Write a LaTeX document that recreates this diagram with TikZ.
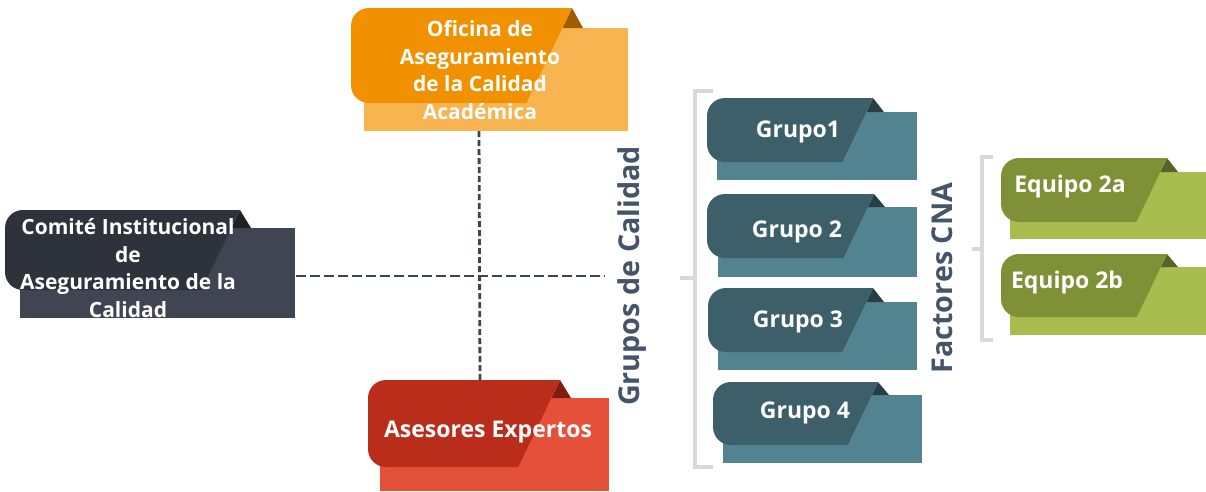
\documentclass[tikz,border=0pt]{standalone}
\usepackage{fontspec}
\setmainfont{Open Sans}
\definecolor{orFront}{HTML}{F29100}
\definecolor{orBack}{HTML}{F9B452}
\definecolor{orFold}{HTML}{A05C00}
\definecolor{grFront}{HTML}{2E333B}
\definecolor{grBack}{HTML}{3F4552}
\definecolor{grFold}{HTML}{1C1F24}
\definecolor{rdFront}{HTML}{BB2D1B}
\definecolor{rdBack}{HTML}{E4503A}
\definecolor{rdFold}{HTML}{7F1D10}
\definecolor{tlFront}{HTML}{3D5F6A}
\definecolor{tlBack}{HTML}{528391}
\definecolor{tlFold}{HTML}{263F47}
\definecolor{olFront}{HTML}{7F9137}
\definecolor{olBack}{HTML}{A8BC50}
\definecolor{olFold}{HTML}{56632A}
\definecolor{brk}{HTML}{D9D9D9}
\definecolor{lbl}{HTML}{44546A}
\definecolor{dsh}{HTML}{3E4452}
% #1 colour prefix, #2 L, #3 T, #4 apex x, #5 front bottom, #6 back top, #7 back left, #8 back right, #9 back bottom
\newcommand\mycard[9]{%
  \fill[#1Back] (#7,#6) rectangle (#8,#9);
  \pgfmathsetmacro\cSl{#4-0.48*(#5-#3)}%
  \pgfmathsetmacro\cFl{#4-0.48*(#6-#3)}%
  \fill[#1Fold] (#4,#3) -- (#4+11,#6) -- (\cFl,#6) -- cycle;
  \fill[#1Front] (#4,#3) -- (\cSl,#5) -- (#2+18,#5)
     .. controls (#2+8,#5) and (#2,#5-8) .. (#2,#5-18)
     -- (#2,#3+18) .. controls (#2,#3+8) and (#2+8,#3) .. (#2+18,#3) -- cycle;
}
\tikzset{
  boxtext/.style={text=white, font=\bfseries\fontsize{23}{28}\selectfont, align=center, inner sep=0pt},
  multitext/.style={boxtext, font=\bfseries\fontsize{21}{27.5}\selectfont},
  sidelabel/.style={text=lbl, font=\bfseries\fontsize{28.7}{30}\selectfont, rotate=90, inner sep=0pt},
  bracket/.style={draw=brk, line width=4pt},
  conn/.style={draw=dsh, line width=2.8pt, dash pattern=on 10pt off 4pt},
  vconn/.style={draw=dsh, line width=2.8pt, dash pattern=on 6pt off 3pt},
}
\begin{document}
\begin{tikzpicture}[x=1pt,y=-1pt]
\useasboundingbox (0,0) rectangle (1206,491);
% connectors (behind)
\coordinate (ofiB) at (479,131);
\coordinate (aseT) at (480,380);
\coordinate (comR) at (296,276);
\coordinate (grpL) at (605,276);
\draw[vconn] (ofiB) -- (aseT);
\draw[conn] (comR) -- (grpL);
% cards
\mycard{or}{351}{8}{572}{103}{28}{364}{628}{131}
\mycard{gr}{5}{210}{240}{290}{228}{20}{295}{318}
\mycard{rd}{368}{380}{560}{467}{398}{380}{609}{491}
\mycard{tl}{707}{98}{873}{162}{112}{717}{917}{180}
\mycard{tl}{707}{194}{874}{258}{207}{718}{917}{277}
\mycard{tl}{708}{288}{873}{352}{302}{718}{917}{370}
\mycard{tl}{713}{382}{878}{445}{395}{723}{922}{463}
\mycard{ol}{1001}{158}{1167}{222}{172}{1010}{1206}{239}
\mycard{ol}{1001}{254}{1167}{317}{267}{1010}{1206}{335}
% texts
\node[multitext] (ofi) at (480,70) {Oficina de\\Aseguramiento\\de la Calidad\\Académica};
\node[multitext] (com) at (128,268) {Comité Institucional\\de\\Aseguramiento de la\\Calidad};
\node[boxtext] (ase) at (488,432) {Asesores Expertos};
\node[boxtext] (g1) at (798,132) {Grupo1};
\node[boxtext] (g2) at (797,232) {Grupo 2};
\node[boxtext] (g3) at (798,322) {Grupo 3};
\node[boxtext] (g4) at (805,413) {Grupo 4};
\node[boxtext] (e2a) at (1070,187) {Equipo 2a};
\node[boxtext] (e2b) at (1067,283) {Equipo 2b};
\node[sidelabel] (grupos) at (632,276) {Grupos de Calidad};
\node[sidelabel] (factores) at (942,278) {Factores CNA};
% brackets
\draw[bracket] (713,91) -- (695,91) -- (695,467) -- (713,467);
\draw[bracket] (680,278) -- (695,278);
\draw[bracket] (993,157) -- (982,157) -- (982,340) -- (993,340);
\draw[bracket] (972,249) -- (982,249);
\end{tikzpicture}
\end{document}
